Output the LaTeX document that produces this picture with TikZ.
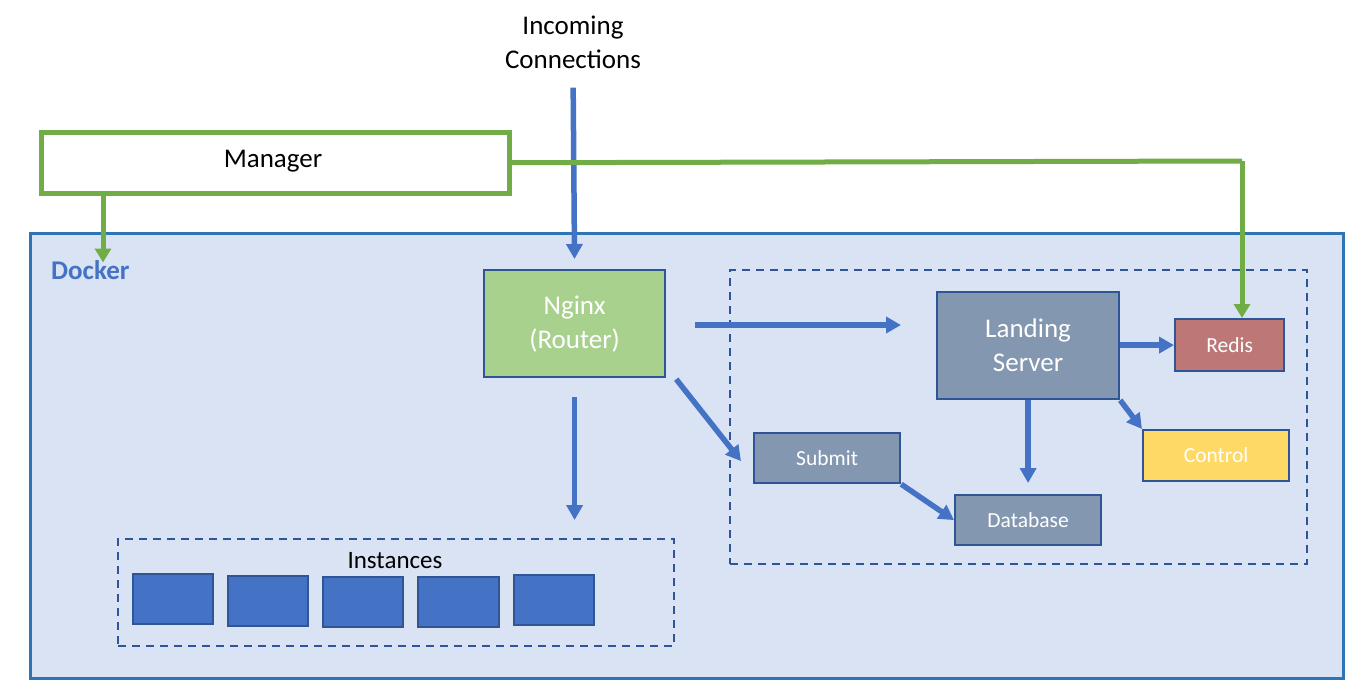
\documentclass[tikz,border=0pt]{standalone}
\usepackage{fontspec}
\setmainfont{Carlito}
\usetikzlibrary{arrows.meta,calc}
\definecolor{dockfill}{HTML}{DAE3F3}
\definecolor{dockline}{HTML}{2E75B6}
\definecolor{darkblue}{HTML}{2F5597}
\definecolor{arrblue}{HTML}{4472C4}
\definecolor{mgreen}{HTML}{70AD47}
\definecolor{ngfill}{HTML}{A9D18E}
\definecolor{grayblue}{HTML}{8497B0}
\definecolor{redisfill}{HTML}{BE7777}
\definecolor{ctrlfill}{HTML}{FFD966}
\tikzset{
  box/.style={draw=darkblue, line width=2.2pt, inner sep=0pt, text=white, align=center},
  bigtext/.style={font=\fontsize{27}{34}\selectfont},
  smalltext/.style={font=\fontsize{21.5}{26}\selectfont},
  arr/.style={draw=arrblue, line width=5.5pt, -{Triangle[length=15pt,width=16pt]}},
  garr/.style={draw=mgreen, line width=5pt, -{Triangle[length=14pt,width=16pt]}},
  dashbox/.style={draw=darkblue, line width=2.2pt, dash pattern=on 8pt off 6pt},
  inst/.style={draw=darkblue, line width=2.2pt, fill=arrblue, minimum width=80pt, minimum height=50pt, inner sep=0pt}
}
\begin{document}
\begin{tikzpicture}[x=1pt,y=-1pt]
\useasboundingbox (0,0) rectangle (1368,693);
\fill[white] (0,0) rectangle (1368,693);
% Docker
\node[draw=dockline, fill=dockfill, line width=2.5pt, minimum width=1313pt, minimum height=445pt, inner sep=0pt, anchor=north west] (docker) at (29,232) {};
\node[anchor=west, font=\fontsize{27}{30}\selectfont\bfseries, text=arrblue, inner sep=0pt] (dockerlbl) at (51,270) {Docker};
% dashed groups
\node[dashbox, minimum width=577pt, minimum height=294pt, inner sep=0pt, anchor=north west] (grp) at (729,269) {};
\node[dashbox, minimum width=556pt, minimum height=107pt, inner sep=0pt, anchor=north west] (inst) at (117,538) {};
\node[font=\fontsize{25}{30}\selectfont, inner sep=0pt] (instlbl) at (395,561) {Instances};
% instances
\node[inst, anchor=north west] (i1) at (132,573) {};
\node[inst, anchor=north west] (i2) at (227,575) {};
\node[inst, anchor=north west] (i3) at (322,576) {};
\node[inst, anchor=north west, minimum width=81pt] (i4) at (417,576) {};
\node[inst, anchor=north west] (i5) at (513,574) {};
% text top
\node[bigtext, align=center, inner sep=0pt] (inc) at (573,42) {Incoming\\Connections};
% manager
\node[draw=mgreen, line width=4.5pt, fill=white, minimum width=468pt, minimum height=61pt, inner sep=0pt, anchor=north west] (mgr) at (39,130) {};
\node[bigtext, inner sep=0pt] (mgrlbl) at (273,161) {Manager};
% nginx
\node[box, fill=ngfill, minimum width=181pt, minimum height=107pt, anchor=north west] (ng) at (483,269) {};
\node[bigtext, text=white, align=center, inner sep=0pt] (nglbl) at (ng.center) {Nginx\\(Router)};
% landing
\node[box, fill=grayblue, minimum width=182pt, minimum height=107pt, anchor=north west] (land) at (936,291) {};
\node[bigtext, text=white, align=center, inner sep=0pt] (landlbl) at (land.center) {Landing\\Server};
% small boxes
\node[box, fill=redisfill, minimum width=109pt, minimum height=52pt, smalltext, anchor=north west] (redis) at (1174,318) {Redis};
\node[box, fill=ctrlfill, minimum width=146pt, minimum height=51pt, smalltext, anchor=north west] (ctrl) at (1142,429) {Control};
\node[box, fill=grayblue, minimum width=146pt, minimum height=50pt, smalltext, anchor=north west] (sub) at (753,432) {Submit};
\node[box, fill=grayblue, minimum width=146pt, minimum height=50pt, smalltext, anchor=north west] (db) at (954,494) {Database};
% helper coordinates
\coordinate (hline) at (0,325);
\coordinate (gcorner) at (1242,161);
\coordinate (gend) at (1242,318);
% arrows
\draw[arr, shorten <=19pt, shorten >=10pt] (inc.south) -- (ng.north);
\draw[arr, shorten <=29pt, shorten >=35pt] (ng.east |- hline) -- (land.west |- hline);
\draw[arr] ($(ng.south east)+(10,1)$) -- ($(sub.west)+(-12,3)$);
\draw[arr, shorten <=19pt, shorten >=18pt] (ng.south) -- (ng.south |- inst.north);
\draw[arr] (land.east |- redis.west) -- (redis.west);
\draw[arr] (land.south east) -- (ctrl.north west);
\draw[arr, shorten >=11pt] (land.south) -- (db.north);
\draw[arr] (sub.south east) -- (db.west);
% green connectors
\draw[garr] ($(mgr.south west)+(64,0)$) -- ($(mgr.south west)+(64,67)$);
\draw[garr, -] (mgr.east) -- (gcorner);
\draw[garr] (gcorner) -- (gend);
\end{tikzpicture}
\end{document}
